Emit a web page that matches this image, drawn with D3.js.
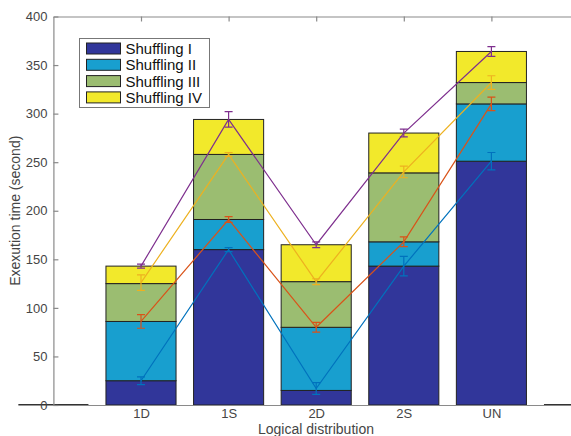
<!DOCTYPE html>
<html>
<head>
<meta charset="utf-8">
<script src="https://cdn.jsdelivr.net/npm/d3@7"></script>
<style>
body { margin: 0; background: #fff; }
svg { display: block; font-family: "Liberation Sans", Arial, sans-serif; }
</style>
</head>
<body>
<svg></svg>
<script>
var categories = ['1D', '1S', '2D', '2S', 'UN'];
var seriesNames = ['Shuffling I', 'Shuffling II', 'Shuffling III', 'Shuffling IV'];
var shuffling1 = [25, 160, 15, 143, 251];
var shuffling2 = [61, 31, 65, 25, 59];
var shuffling3 = [39, 67, 47, 71, 22];
var shuffling4 = [18, 36, 38, 41, 32];
// lines with error bars (mean and +/- error)
var line1 = [25, 160, 17, 143, 251];
var err1 = [4, 2, 6, 10, 9];
var line2 = [86, 191, 80, 168, 310];
var err2 = [7, 3, 5, 5, 7];
var line3 = [126, 258, 127, 240, 332];
var err3 = [8, 2, 3, 6, 7];
var line4 = [143, 294, 165, 280, 364];
var err4 = [2, 8, 3, 4, 5];
var yTicks = [0, 50, 100, 150, 200, 250, 300, 350, 400];

var barColors = ['#31369a', '#189fcf', '#9bbd71', '#f2e92b'];
var lineColors = ['#0072bd', '#d95319', '#edb120', '#7e2f8e'];

var svg = d3.select('svg')
    .attr('width', 571)
    .attr('height', 436);

var x = d3.scaleLinear().domain([0, 6]).range([53.4, 579]);
var y = d3.scaleLinear().domain([0, 400]).range([405, 16.5]);
var barW = (x(1) - x(0)) * 0.8;

var rows = categories.map(function(c, i) {
    return {cat: c, pos: i + 1, vals: [shuffling1[i], shuffling2[i], shuffling3[i], shuffling4[i]]};
});
var stackData = d3.stack().keys([0, 1, 2, 3]).value(function(d, k) { return d.vals[k]; })(rows);

var g = svg.append('g');

// empty bars at the padding positions
g.selectAll('rect.pad')
    .data([0, 6])
    .enter().append('rect')
    .attr('class', 'pad')
    .attr('x', function(d) { return x(d) - barW / 2; })
    .attr('y', y(0) - 1)
    .attr('width', barW)
    .attr('height', 1.5)
    .style('fill', '#333');

stackData.forEach(function(layer, k) {
    g.selectAll('rect.s' + k)
        .data(layer)
        .enter().append('rect')
        .attr('class', 's' + k)
        .attr('x', function(d) { return x(d.data.pos) - barW / 2; })
        .attr('y', function(d) { return y(d[1]); })
        .attr('width', barW)
        .attr('height', function(d) { return y(d[0]) - y(d[1]); })
        .style('fill', barColors[k])
        .style('stroke', '#222')
        .style('stroke-width', 1);
});

// lines and error bars
var lines = [line1, line2, line3, line4];
var errs = [err1, err2, err3, err4];
var lineGen = d3.line()
    .x(function(d, i) { return x(i + 1); })
    .y(function(d) { return y(d); });

lines.forEach(function(vals, k) {
    var lg = g.append('g');
    lg.append('path')
        .datum(vals)
        .attr('d', lineGen)
        .style('fill', 'none')
        .style('stroke', lineColors[k])
        .style('stroke-width', 1.2);
    vals.forEach(function(v, i) {
        var e = errs[k][i];
        var cx = x(i + 1);
        var p = d3.path();
        p.moveTo(cx, y(v - e)); p.lineTo(cx, y(v + e));
        p.moveTo(cx - 4, y(v - e)); p.lineTo(cx + 4, y(v - e));
        p.moveTo(cx - 4, y(v + e)); p.lineTo(cx + 4, y(v + e));
        lg.append('path')
            .attr('d', p.toString())
            .style('fill', 'none')
            .style('stroke', lineColors[k])
            .style('stroke-width', 1.2);
    });
});

// axes
var axisColor = '#8a8a8a';
var textColor = '#454545';

var yAxis = svg.append('g')
    .attr('transform', 'translate(' + x(0) + ',0)')
    .call(d3.axisLeft(y).tickValues(yTicks).tickSizeInner(-5).tickSizeOuter(0).tickPadding(6));
var xAxis = svg.append('g')
    .attr('transform', 'translate(0,' + y(0) + ')')
    .call(d3.axisBottom(x).tickValues([1, 2, 3, 4, 5])
        .tickFormat(function(d) { return categories[d - 1]; })
        .tickSizeInner(0).tickSizeOuter(0).tickPadding(3.5));
var topAxis = svg.append('g')
    .attr('transform', 'translate(0,' + y(400) + ')')
    .call(d3.axisTop(x).tickValues([1, 2, 3, 4, 5]).tickFormat('').tickSizeInner(-5).tickSizeOuter(0));

[yAxis, xAxis, topAxis].forEach(function(a) {
    a.select('.domain').style('stroke', axisColor).style('stroke-width', 1.2);
    a.selectAll('.tick line').style('stroke', axisColor).style('stroke-width', 1.2);
    a.selectAll('.tick text')
        .style('fill', textColor)
        .style('font-size', '13px')
        .style('font-family', '"Liberation Sans", Arial, sans-serif');
});

svg.append('text')
    .attr('transform', 'translate(20,' + ((y(0) + y(400)) / 2) + ') rotate(-90)')
    .attr('text-anchor', 'middle')
    .style('font-size', '14px')
    .style('fill', textColor)
    .text('Exexution time (second)');

svg.append('text')
    .attr('x', 316)
    .attr('y', 433.5)
    .attr('text-anchor', 'middle')
    .style('font-size', '14px')
    .style('fill', textColor)
    .text('Logical distribution');

// legend
var legend = svg.append('g').attr('transform', 'translate(79.5,38.5)');
legend.append('rect')
    .attr('width', 130)
    .attr('height', 69)
    .style('fill', '#fff')
    .style('stroke', '#777')
    .style('stroke-width', 1);
seriesNames.forEach(function(name, k) {
    var row = legend.append('g').attr('transform', 'translate(7,' + (4.5 + k * 16.3) + ')');
    row.append('rect')
        .attr('width', 34)
        .attr('height', 11)
        .style('fill', barColors[k])
        .style('stroke', '#222')
        .style('stroke-width', 1);
    row.append('text')
        .attr('x', 39)
        .attr('y', 11)
        .style('font-size', '15px')
        .style('fill', '#111')
        .text(name);
});
</script>
</body>
</html>
